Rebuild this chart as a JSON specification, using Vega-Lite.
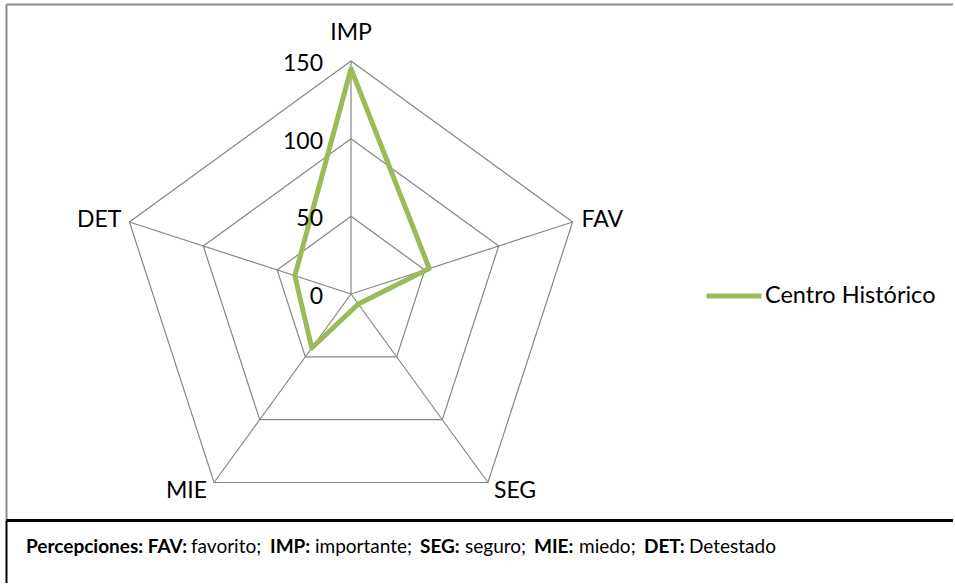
{
  "$schema": "https://vega.github.io/schema/vega-lite/v6.json",
  "background": "white",
  "padding": {"left": 6, "top": 4, "right": 0, "bottom": 0},
  "spacing": 0,
  "config": {
    "font": "Lato",
    "view": {"stroke": null},
    "text": {"font": "Lato", "fontSize": 23, "color": "#000000"},
    "axis": {"labels": false, "ticks": false, "grid": false, "minExtent": 0, "maxExtent": 0}
  },
  "resolve": {"scale": {"x": "independent", "y": "independent"}, "axis": {"x": "independent", "y": "independent"}},
  "datasets": {
    "ejes": [
      {"eje": "IMP", "i": 0},
      {"eje": "FAV", "i": 1},
      {"eje": "SEG", "i": 2},
      {"eje": "MIE", "i": 3},
      {"eje": "DET", "i": 4}
    ],
    "anillos": [
      {"anillo": 50, "i": [0, 1, 2, 3, 4]},
      {"anillo": 100, "i": [0, 1, 2, 3, 4]},
      {"anillo": 150, "i": [0, 1, 2, 3, 4]}
    ],
    "centro": [
      {"eje": "IMP", "i": 0, "valor": 145, "serie": "Centro Histórico"},
      {"eje": "FAV", "i": 1, "valor": 53, "serie": "Centro Histórico"},
      {"eje": "SEG", "i": 2, "valor": 8, "serie": "Centro Histórico"},
      {"eje": "MIE", "i": 3, "valor": 43, "serie": "Centro Histórico"},
      {"eje": "DET", "i": 4, "valor": 38, "serie": "Centro Histórico"}
    ],
    "escala": [{"v": 0}, {"v": 50}, {"v": 100}, {"v": 150}],
    "nota": [
      {"n": 0, "texto": "Percepciones: FAV:", "peso": "bold"},
      {"n": 1, "texto": "favorito;", "peso": "normal"},
      {"n": 2, "texto": "IMP:", "peso": "bold"},
      {"n": 3, "texto": "importante;", "peso": "normal"},
      {"n": 4, "texto": "SEG:", "peso": "bold"},
      {"n": 5, "texto": "seguro;", "peso": "normal"},
      {"n": 6, "texto": "MIE:", "peso": "bold"},
      {"n": 7, "texto": "miedo;", "peso": "normal"},
      {"n": 8, "texto": "DET:", "peso": "bold"},
      {"n": 9, "texto": "Detestado", "peso": "normal"}
    ]
  },
  "vconcat": [
    {
      "width": 947,
      "height": 516,
      "encoding": {
        "x": {"field": "x", "type": "quantitative", "scale": {"domain": [-222.11, 387.56], "nice": false, "zero": false}, "axis": {"orient": "top", "title": null, "domainColor": "#8c8c8c", "domainWidth": 2}},
        "y": {"field": "y", "type": "quantitative", "scale": {"domain": [-145.50, 186.70], "nice": false, "zero": false}, "axis": {"orient": "left", "title": null, "domainColor": "#8c8c8c", "domainWidth": 2}}
      },
      "layer": [
        {
          "data": {"name": "anillos"},
          "transform": [
            {"flatten": ["i"]},
            {"calculate": "datum.i*2*PI/5", "as": "ang"},
            {"calculate": "datum.anillo*sin(datum.ang)", "as": "x"},
            {"calculate": "datum.anillo*cos(datum.ang)", "as": "y"}
          ],
          "mark": {"type": "line", "interpolate": "linear-closed", "stroke": "#868686", "strokeWidth": 1.2},
          "encoding": {"detail": {"field": "anillo", "type": "nominal"}, "order": {"field": "i", "type": "quantitative"}}
        },
        {
          "data": {"name": "ejes"},
          "transform": [
            {"calculate": "datum.i*2*PI/5", "as": "ang"},
            {"calculate": "150*sin(datum.ang)", "as": "x"},
            {"calculate": "150*cos(datum.ang)", "as": "y"}
          ],
          "mark": {"type": "rule", "stroke": "#868686", "strokeWidth": 1.2},
          "encoding": {"x2": {"datum": 0}, "y2": {"datum": 0}}
        },
        {
          "data": {"name": "centro"},
          "transform": [
            {"calculate": "datum.i*2*PI/5", "as": "ang"},
            {"calculate": "datum.valor*sin(datum.ang)", "as": "x"},
            {"calculate": "datum.valor*cos(datum.ang)", "as": "y"}
          ],
          "mark": {"type": "line", "interpolate": "linear-closed", "strokeWidth": 5, "strokeJoin": "round"},
          "encoding": {
            "color": {"field": "serie", "type": "nominal", "scale": {"range": ["#9BBB59"]},
              "legend": {"orient": "none", "legendX": 698, "legendY": 262, "title": null, "symbolType": "stroke", "symbolSize": 3025, "symbolStrokeWidth": 5, "labelFontSize": 23.5, "labelFont": "Lato", "labelColor": "#000000", "labelOffset": 1, "labelLimit": 400, "padding": 0}},
            "order": {"field": "i", "type": "quantitative"}
          }
        },
        {
          "data": {"name": "ejes"},
          "transform": [
            {"filter": "datum.eje == 'IMP'"},
            {"calculate": "datum.i*2*PI/5", "as": "ang"},
            {"calculate": "150*sin(datum.ang)", "as": "x"},
            {"calculate": "150*cos(datum.ang)", "as": "y"}
          ],
          "mark": {"type": "text", "align": "center", "baseline": "middle", "dy": -28},
          "encoding": {"text": {"field": "eje"}}
        },
        {
          "data": {"name": "ejes"},
          "transform": [
            {"filter": "datum.eje == 'FAV'"},
            {"calculate": "datum.i*2*PI/5", "as": "ang"},
            {"calculate": "150*sin(datum.ang)", "as": "x"},
            {"calculate": "150*cos(datum.ang)", "as": "y"}
          ],
          "mark": {"type": "text", "align": "left", "baseline": "middle", "dx": 9, "dy": -2},
          "encoding": {"text": {"field": "eje"}}
        },
        {
          "data": {"name": "ejes"},
          "transform": [
            {"filter": "datum.eje == 'SEG'"},
            {"calculate": "datum.i*2*PI/5", "as": "ang"},
            {"calculate": "150*sin(datum.ang)", "as": "x"},
            {"calculate": "150*cos(datum.ang)", "as": "y"}
          ],
          "mark": {"type": "text", "align": "left", "baseline": "middle", "dx": 6, "dy": 9},
          "encoding": {"text": {"field": "eje"}}
        },
        {
          "data": {"name": "ejes"},
          "transform": [
            {"filter": "datum.eje == 'MIE'"},
            {"calculate": "datum.i*2*PI/5", "as": "ang"},
            {"calculate": "150*sin(datum.ang)", "as": "x"},
            {"calculate": "150*cos(datum.ang)", "as": "y"}
          ],
          "mark": {"type": "text", "align": "right", "baseline": "middle", "dx": -7, "dy": 9},
          "encoding": {"text": {"field": "eje"}}
        },
        {
          "data": {"name": "ejes"},
          "transform": [
            {"filter": "datum.eje == 'DET'"},
            {"calculate": "datum.i*2*PI/5", "as": "ang"},
            {"calculate": "150*sin(datum.ang)", "as": "x"},
            {"calculate": "150*cos(datum.ang)", "as": "y"}
          ],
          "mark": {"type": "text", "align": "right", "baseline": "middle", "dx": -8, "dy": -2},
          "encoding": {"text": {"field": "eje"}}
        },
        {
          "data": {"name": "escala"},
          "transform": [
            {"calculate": "0", "as": "x"},
            {"calculate": "datum.v", "as": "y"}
          ],
          "mark": {"type": "text", "align": "right", "baseline": "middle", "dx": -28, "dy": 3},
          "encoding": {"text": {"field": "v", "type": "quantitative"}}
        }
      ]
    },
    {
      "width": 947,
      "height": 63,
      "data": {"name": "nota"},
      "encoding": {
        "x": {"datum": 0, "type": "quantitative", "scale": {"domain": [0, 1]}, "axis": {"orient": "top", "title": null, "domainColor": "#000000", "domainWidth": 3}},
        "y": {"datum": 1, "type": "quantitative", "scale": {"domain": [0, 1]}, "axis": {"orient": "left", "title": null, "domainColor": "#000000", "domainWidth": 2}},
        "text": {"field": "texto"}
      },
      "layer": [
        {"transform": [{"filter": "datum.n == 0"}], "mark": {"type": "text", "align": "left", "baseline": "middle", "dx": 20, "dy": 27, "fontSize": 19, "fontWeight": "bold"}},
        {"transform": [{"filter": "datum.n == 1"}], "mark": {"type": "text", "align": "left", "baseline": "middle", "dx": 185, "dy": 27, "fontSize": 19, "fontWeight": "normal"}},
        {"transform": [{"filter": "datum.n == 2"}], "mark": {"type": "text", "align": "left", "baseline": "middle", "dx": 264, "dy": 27, "fontSize": 19, "fontWeight": "bold"}},
        {"transform": [{"filter": "datum.n == 3"}], "mark": {"type": "text", "align": "left", "baseline": "middle", "dx": 309, "dy": 27, "fontSize": 19, "fontWeight": "normal"}},
        {"transform": [{"filter": "datum.n == 4"}], "mark": {"type": "text", "align": "left", "baseline": "middle", "dx": 414, "dy": 27, "fontSize": 19, "fontWeight": "bold"}},
        {"transform": [{"filter": "datum.n == 5"}], "mark": {"type": "text", "align": "left", "baseline": "middle", "dx": 459, "dy": 27, "fontSize": 19, "fontWeight": "normal"}},
        {"transform": [{"filter": "datum.n == 6"}], "mark": {"type": "text", "align": "left", "baseline": "middle", "dx": 528, "dy": 27, "fontSize": 19, "fontWeight": "bold"}},
        {"transform": [{"filter": "datum.n == 7"}], "mark": {"type": "text", "align": "left", "baseline": "middle", "dx": 573, "dy": 27, "fontSize": 19, "fontWeight": "normal"}},
        {"transform": [{"filter": "datum.n == 8"}], "mark": {"type": "text", "align": "left", "baseline": "middle", "dx": 638, "dy": 27, "fontSize": 19, "fontWeight": "bold"}},
        {"transform": [{"filter": "datum.n == 9"}], "mark": {"type": "text", "align": "left", "baseline": "middle", "dx": 683, "dy": 27, "fontSize": 19, "fontWeight": "normal"}}
      ]
    }
  ]
}
